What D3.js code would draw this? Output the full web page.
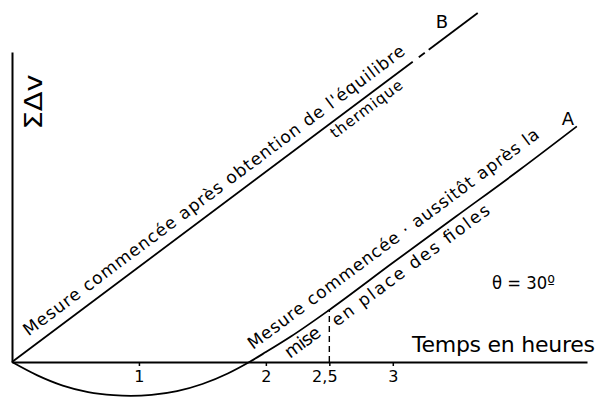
<!DOCTYPE html>
<html><head><meta charset="utf-8">
<script src="https://cdn.jsdelivr.net/npm/d3@7"></script>
<style>body{margin:0;background:#fff}svg{display:block}</style>
</head><body><svg id="c" width="600" height="397"></svg>
<script>
// ---- data (hours, arbitrary units of ΣΔv) ----
const timeA  = [0, 0.2, 0.4, 0.6, 0.8, 0.935, 1.1, 1.3, 1.5, 1.7, 1.87, 2.0, 2.2, 2.5, 3.0, 3.5, 4.0, 4.45];
const valueA = [0, -0.43, -0.76, -0.97, -1.07, -1.09, -1.06, -0.94, -0.71, -0.37, 0, 0.32, 0.83, 1.68, 3.2, 4.7, 6.2, 7.6];
const timeB  = [0, 3.67];
const valueB = [0, 11.26];
const segmentsB = [[0, 3.157], [3.205, 3.252], [3.283, 3.669]];
const tickValues = [1, 2, 2.5, 3];
const tickLabels = ["1", "2", "2,5", "3"];
const equilibriumTime = 2.5;

const svg = d3.select("#c");
const font = "'DejaVu Sans', sans-serif";
const x = d3.scaleLinear().domain([0, 4.53]).range([12, 587]);
const y = d3.scaleLinear().domain([0, 10]).range([362, 52]);

// axes
const xAxis = d3.axisBottom(x).tickValues(tickValues)
  .tickFormat((d, i) => tickLabels[i]).tickSizeInner(4).tickSizeOuter(0).tickPadding(5);
const gx = svg.append("g").attr("transform", `translate(0,${y(0)})`).call(xAxis);
gx.select(".domain").attr("stroke", "#000").attr("stroke-width", 2);
gx.selectAll(".tick line").attr("stroke", "#000").attr("stroke-width", 1.5);
gx.selectAll(".tick text").attr("font-family", font).attr("font-size", 16).attr("fill", "#000")
  .attr("dx", d => d === 2.5 ? -5 : 0);

const gy = svg.append("g").attr("transform", `translate(${x(0)},0)`)
  .call(d3.axisLeft(y).tickValues([]).tickSizeOuter(0));
gy.select(".domain").attr("stroke", "#000").attr("stroke-width", 2);

// curve A
const ptsA = timeA.map((t, i) => [t, valueA[i]]);
svg.append("path").datum(ptsA)
  .attr("d", d3.line().x(d => x(d[0])).y(d => y(d[1])).curve(d3.curveMonotoneX))
  .attr("fill", "none").attr("stroke", "#000").attr("stroke-width", 1.8);

// line B (with small breaks near the top)
const lineB = d3.scaleLinear().domain(timeB).range(valueB);
svg.selectAll("line.b").data(segmentsB).join("line").attr("class", "b")
  .attr("x1", d => x(d[0])).attr("y1", d => y(lineB(d[0])))
  .attr("x2", d => x(d[1])).attr("y2", d => y(lineB(d[1])))
  .attr("stroke", "#000").attr("stroke-width", 1.8);

// dashed vertical at 2.5 h
const vEq = valueA[timeA.indexOf(equilibriumTime)];
svg.append("line").attr("x1", x(equilibriumTime)).attr("x2", x(equilibriumTime))
  .attr("y1", y(0)).attr("y2", y(vEq))
  .attr("stroke", "#000").attr("stroke-width", 1.4).attr("stroke-dasharray", "6,4");

// rotated annotations
const angB = Math.atan2(y(valueB[1]) - y(valueB[0]), x(timeB[1]) - x(timeB[0])) * 180 / Math.PI;
const nA = timeA.length - 1, iA = timeA.indexOf(equilibriumTime);
const angA = Math.atan2(y(valueA[nA]) - y(valueA[iA]), x(timeA[nA]) - x(timeA[iA])) * 180 / Math.PI;

const notes = [
  {text: "Mesure commencée après obtention de l'équilibre", t: 0.13, v: 0.82, ang: angB, len: 472, size: 17},
  {text: "thermique", t: 2.545, v: 7.2, ang: angB, len: 86, size: 15},
  {text: "Mesure commencée · aussitôt après la", t: 1.898, v: 0.39, ang: angA, len: 358, size: 17},
  {text: "mise", t: 2.19, v: 0.1, ang: angA, len: 40, size: 18},
  {text: "en place des fioles", t: 2.56, v: 1.13, ang: angA, len: 192, size: 17}
];
svg.selectAll("text.note").data(notes).join("text").attr("class", "note")
  .attr("transform", d => `translate(${x(d.t)},${y(d.v)}) rotate(${d.ang})`)
  .attr("font-family", font).attr("font-size", d => d.size)
  .attr("textLength", d => d.len).attr("lengthAdjust", "spacing")
  .text(d => d.text);

// labels
svg.append("text").attr("x", 442).attr("y", 28).attr("text-anchor", "middle")
  .attr("font-family", font).attr("font-size", 18).text("B");
svg.append("text").attr("x", 568).attr("y", 125).attr("text-anchor", "middle")
  .attr("font-family", font).attr("font-size", 18).text("A");
svg.append("text").attr("x", 492).attr("y", 289)
  .attr("font-family", font).attr("font-size", 18.5).attr("textLength", 63).attr("lengthAdjust", "spacingAndGlyphs")
  .text("θ = 30º");
svg.append("text").attr("x", 412).attr("y", 352)
  .attr("font-family", font).attr("font-size", 22).attr("textLength", 183).attr("lengthAdjust", "spacing")
  .text("Temps en heures");
svg.append("text").attr("transform", "translate(42,102) rotate(-90)").attr("text-anchor", "middle")
  .attr("font-family", font).attr("font-size", 25).attr("textLength", 55).attr("lengthAdjust", "spacingAndGlyphs")
  .text("ΣΔv");
</script></body></html>
